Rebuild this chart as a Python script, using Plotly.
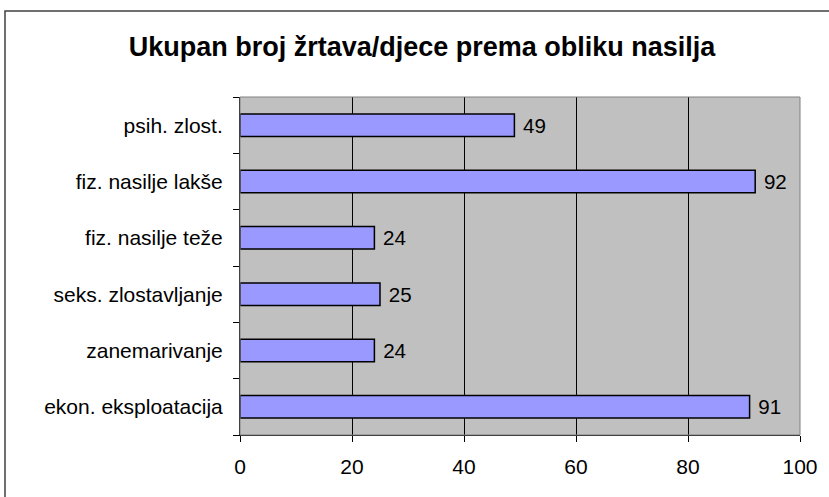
import plotly.graph_objects as go

categories = ["psih. zlost.", "fiz. nasilje lakše", "fiz. nasilje teže",
              "seks. zlostavljanje", "zanemarivanje", "ekon. eksploatacija"]
values = [49, 92, 24, 25, 24, 91]
x_ticks = [0, 20, 40, 60, 80, 100]
title_text = "Ukupan broj žrtava/djece prema obliku nasilja"

W, H = 829, 497
L, R, T, B = 240, 29, 97, 62
pw, ph = W - L - R, H - T - B
FONT = "Liberation Sans, Arial"
FS = 21

fig = go.Figure(go.Bar(
    y=categories, x=values, orientation="h",
    marker=dict(color="#9999FF", line=dict(color="black", width=1.5)),
    text=[" " + str(v) for v in values], textposition="outside",
    textfont=dict(family=FONT, size=FS, color="black"),
    cliponaxis=False,
))

fig.update_layout(
    width=W, height=H,
    margin=dict(l=L, r=R, t=T, b=B, autoexpand=False),
    paper_bgcolor="white", plot_bgcolor="#C0C0C0",
    bargap=0.6, showlegend=False,
    font=dict(family=FONT, size=FS, color="black"),
    title=dict(text="<b>" + title_text + "</b>", x=422 / W, xanchor="center",
               y=1 - 47 / H, yanchor="middle",
               font=dict(family=FONT, size=27, color="black")),
    xaxis=dict(range=[0, 100], tickvals=x_ticks, ticks="outside", ticklen=6,
               tickcolor="black", showgrid=True, gridcolor="black", gridwidth=1,
               showline=True, linecolor="black", linewidth=1, zeroline=False,
               tickfont=dict(size=FS), ticklabelstandoff=7, automargin=False),
    yaxis=dict(categoryorder="array", categoryarray=categories[::-1],
               ticks="outside", tickson="boundaries", ticklen=6, tickcolor="black",
               showline=True, linecolor="black", linewidth=1, showgrid=False,
               tickfont=dict(size=FS), ticklabelstandoff=12, automargin=False),
    shapes=[
        dict(type="rect", xref="paper", yref="paper", x0=0, x1=1, y0=0, y1=1,
             line=dict(color="#808080", width=1), layer="above"),
        dict(type="rect", xref="paper", yref="paper",
             x0=(5 - L) / pw, x1=(W + 10 - L) / pw,
             y0=(T + ph - (H + 10)) / ph, y1=(T + ph - 11) / ph,
             line=dict(color="#404040", width=1.5)),
    ],
)

fig.write_html("out.html", config={"displayModeBar": False},
               post_script="document.body.style.margin='0';")
